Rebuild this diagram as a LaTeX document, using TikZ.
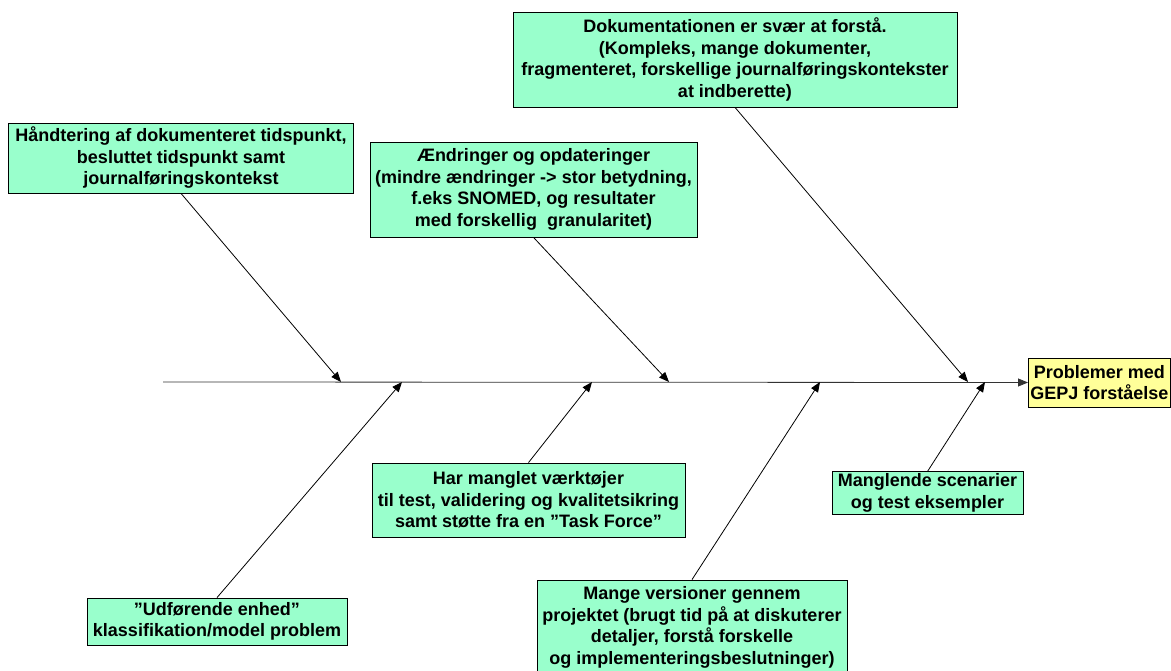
\documentclass[tikz,border=0pt]{standalone}
\usepackage{fontspec}
\setmainfont{Liberation Sans}
\usetikzlibrary{arrows.meta,positioning}
\definecolor{causegreen}{HTML}{99FFCC}
\definecolor{effectyellow}{HTML}{FFFF99}

\begin{document}
\begin{tikzpicture}
[x=1pt,y=-1pt,
cause/.style={rectangle,draw=black,fill=causegreen,line width=0.8pt,
inner sep=2pt,align=center,font=\bfseries\fontsize{18}{21.5}\selectfont},
effect/.style={cause,fill=effectyellow},
bone/.style={-{Triangle[length=10pt,width=8pt]},line width=0.8pt},
spine/.style={bone,draw=black!80}]

\useasboundingbox (0,0) rectangle (1171,671);

% causes above the spine
\node [cause,minimum width=345pt,minimum height=70pt] (hnd) at (181,158)
{Håndtering af dokumenteret tidspunkt,\\besluttet tidspunkt samt\\journalføringskontekst};
\node [cause,minimum width=327pt,minimum height=95pt] (aen) at (533.5,189.5)
{Ændringer og opdateringer\\(mindre ændringer -> stor betydning,\\f.eks SNOMED, og resultater\\med forskellig \ granularitet)};
\node [cause,minimum width=444pt,minimum height=95pt] (dok) at (735,59.5)
{Dokumentationen er svær at forstå.\\(Kompleks, mange dokumenter,\\fragmenteret, forskellige journalføringskontekster\\at indberette)};

% causes below the spine
\node [cause,minimum width=260pt,minimum height=47pt] (udf) at (217,621.5)
{”Udførende enhed”\\klassifikation/model problem};
\node [cause,minimum width=313pt,minimum height=74pt] (har) at (528.5,500)
{Har manglet værktøjer\\til test, validering og kvalitetsikring\\samt støtte fra en ”Task Force”};
\node [cause,minimum width=310pt,minimum height=95pt] (mng) at (692,627.5)
{Mange versioner gennem\\projektet (brugt tid på at diskuterer\\detaljer, forstå forskelle\\og implementeringsbeslutninger)};
\node [cause,minimum width=191pt,minimum height=40pt] (scn) at (927.5,493)
{Manglende scenarier\\og test eksempler};

% head
\node [effect,minimum height=49pt,anchor=west] (head) at (1028,382.5)
{Problemer med\\GEPJ forståelse};

\coordinate (tail) at (163,382);
\coordinate (b1) at (341,382);
\coordinate (b2) at (402,382);
\coordinate (b3) at (592,382);
\coordinate (b4) at (669,382);
\coordinate (b5) at (820,382);
\coordinate (b6) at (968,382);
\coordinate (b7) at (985,382);

\draw [spine] (tail) -- (head.west);
\draw [bone] (hnd.south) -- (b1);
\draw [bone] (udf.north) -- (b2);
\draw [bone] (har.north) -- (b3);
\draw [bone] (aen.south) -- (b4);
\draw [bone] (mng.north) -- (b5);
\draw [bone] (dok.south) -- (b6);
\draw [bone] (scn.north) -- (b7);
\end{tikzpicture}
\end{document}
